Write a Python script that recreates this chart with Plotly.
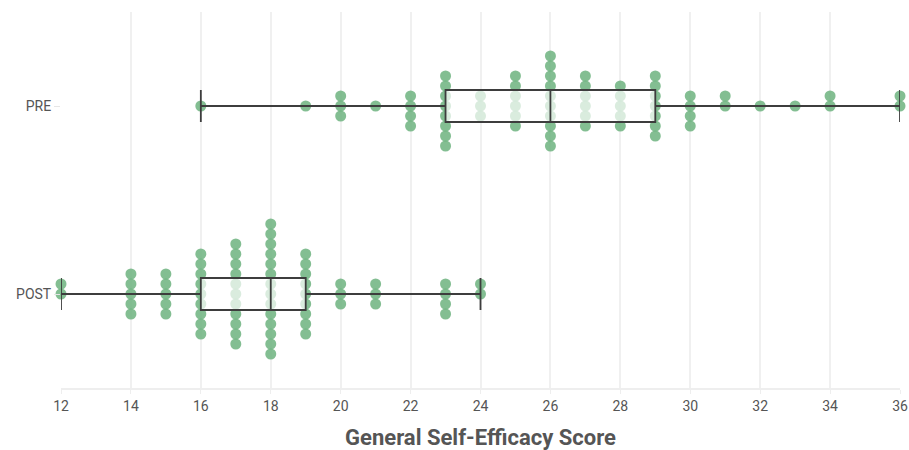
import numpy as np
import plotly.graph_objects as go

# Score values and number of participants at each score
pre_scores = [16, 19, 20, 21, 22, 23, 24, 25, 26, 27, 28, 29, 30, 31, 32, 33, 34, 36]
pre_counts = [1, 1, 3, 1, 4, 8, 3, 6, 10, 6, 5, 7, 4, 2, 1, 1, 2, 2]
post_scores = [12, 14, 15, 16, 17, 18, 19, 20, 21, 23, 24]
post_counts = [2, 5, 5, 9, 11, 14, 9, 3, 3, 4, 2]

groups = ["POST", "PRE"]
x_ticks = list(range(12, 37, 2))

DOT_COLOR = "rgba(104,176,122,0.82)"
STEP = 10 / 188.0  # vertical spacing of stacked dots (in y units)

fig = go.Figure()


def expand(scores, counts):
    vals = []
    for s, c in zip(scores, counts):
        vals += [s] * c
    return np.array(vals, dtype=float)


def swarm(scores, counts, base):
    xs, ys = [], []
    for s, c in zip(scores, counts):
        shift = round((c - 1) / 2)
        for i in range(c):
            xs.append(s)
            ys.append(base + (i - shift) * STEP)
    return xs, ys


datasets = {"POST": (post_scores, post_counts), "PRE": (pre_scores, pre_counts)}

for gi, name in enumerate(groups):
    sc, ct = datasets[name]
    xs, ys = swarm(sc, ct, gi)
    fig.add_trace(go.Scatter(
        x=xs, y=ys, mode="markers", name=name, showlegend=False,
        marker=dict(size=11, color=DOT_COLOR, line=dict(width=0)),
        cliponaxis=False, hoverinfo="x",
        xaxis="x", yaxis="y",
    ))

for gi, name in enumerate(groups):
    sc, ct = datasets[name]
    vals = expand(sc, ct)
    q1, med, q3 = np.percentile(vals, [25, 50, 75])
    fig.add_trace(go.Box(
        y=[gi], q1=[q1], median=[med], q3=[q3],
        lowerfence=[vals.min()], upperfence=[vals.max()],
        orientation="h", width=0.17, whiskerwidth=1,
        fillcolor="rgba(255,255,255,0.7)",
        line=dict(color="#3d3d3d", width=1.8),
        boxpoints=False, showlegend=False, name=name,
        xaxis="x2", yaxis="y2",
    ))

fig.update_layout(
    width=909, height=450,
    margin=dict(l=61, r=9, t=12, b=62, autoexpand=False),
    plot_bgcolor="white", paper_bgcolor="white",
    font=dict(family="Roboto", color="#555555"),
    xaxis=dict(
        range=[12, 36], tickvals=x_ticks, ticktext=[str(t) for t in x_ticks],
        showgrid=True, gridcolor="#f0f0f0", gridwidth=2,
        showline=True, linecolor="#eeeeee", linewidth=2,
        zeroline=False, ticks="outside", ticklen=4, tickcolor="#eeeeee",
        tickfont=dict(size=14, color="#555555"), automargin=False,
        title=dict(text="General Self-Efficacy Score",
                   font=dict(size=22, color="#555555", weight="bold"),
                   standoff=18),
    ),
    yaxis=dict(
        range=[-0.5, 1.5], tickvals=[0, 1], ticktext=groups,
        showgrid=False, zeroline=False, showline=False,
        ticks="outside", ticklen=6, tickcolor="#e6e6e6",
        tickfont=dict(size=14, color="#555555"), automargin=False,
    ),
    xaxis2=dict(overlaying="x", matches="x", visible=False, range=[12, 36]),
    yaxis2=dict(overlaying="y", visible=False, range=[-0.5, 1.5]),
)

fig.write_html(
    "out.html",
    config={"displayModeBar": False},
    post_script="document.body.style.margin='0';document.body.style.overflow='hidden';",
)
